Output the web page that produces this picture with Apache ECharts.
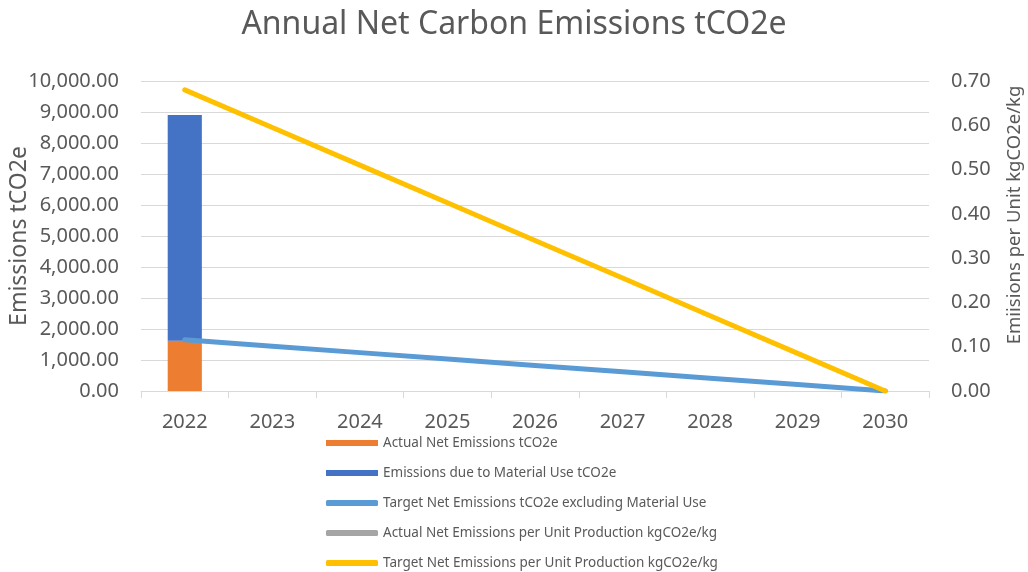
<!DOCTYPE html>
<html>
<head>
<meta charset="utf-8">
<script src="https://cdn.jsdelivr.net/npm/echarts@6/dist/echarts.min.js"></script>
<style>
  html, body { margin: 0; padding: 0; background: #fff; }
  #chart { width: 1028px; height: 572px; }
</style>
</head>
<body>
<div id="chart"></div>
<script>
// years on the x axis
var years = ['2022', '2023', '2024', '2025', '2026', '2027', '2028', '2029', '2030'];
// stacked bars (tCO2e) - only 2022 has actuals
var actualNet = [1620, null, null, null, null, null, null, null, null];
var materialUse = [7280, null, null, null, null, null, null, null, null];
// target line, tCO2e excluding material use
var targetNet = [1650, 1444, 1238, 1031, 825, 619, 413, 206, 0];
// per unit lines (kgCO2e/kg, right axis)
var actualPerUnit = [null, null, null, null, null, null, null, null, null];
var targetPerUnit = [0.68, 0.595, 0.51, 0.425, 0.34, 0.255, 0.17, 0.085, 0];

var textColor = '#595959';
var font = 'Noto Sans';

var chart = echarts.init(document.getElementById('chart'));

option = {
    animation: false,
    title: {
        text: 'Annual Net Carbon Emissions tCO2e',
        left: 'center',
        top: 4,
        textStyle: { fontFamily: font, fontSize: 32, fontWeight: 'normal', color: textColor }
    },
    legend: {
        orient: 'vertical',
        left: 321,
        top: 431,
        height: 145,
        itemWidth: 52,
        itemHeight: 6,
        itemGap: 16,
        textStyle: { fontFamily: font, fontSize: 13.5, color: textColor },
        data: [
            { name: 'Actual Net Emissions tCO2e', icon: 'rect' },
            { name: 'Emissions due to Material Use tCO2e', icon: 'rect' },
            { name: 'Target Net Emissions tCO2e excluding Material Use', icon: 'roundRect' },
            { name: 'Actual Net Emissions per Unit Production kgCO2e/kg', icon: 'roundRect' },
            { name: 'Target Net Emissions per Unit Production kgCO2e/kg', icon: 'roundRect' }
        ]
    },
    grid: { left: 141, right: 99, top: 81, bottom: 181, outerBoundsMode: 'none', containLabel: false },
    xAxis: {
        type: 'category',
        data: years,
        axisLine: { lineStyle: { color: '#d9d9d9' } },
        axisTick: { show: true, length: 7, lineStyle: { color: '#d9d9d9' } },
        axisLabel: { fontFamily: font, fontSize: 20, color: textColor, margin: 21 }
    },
    yAxis: [
        {   // left axis: tCO2e
            type: 'value',
            min: 0, max: 10000, interval: 1000,
            name: 'Emissions tCO2e',
            nameLocation: 'middle',
            nameGap: 110,
            nameMoveOverlap: false,
            nameTextStyle: { fontFamily: font, fontSize: 23, color: textColor },
            axisLine: { show: false },
            axisTick: { show: false },
            axisLabel: {
                fontFamily: font, fontSize: 20, color: textColor, margin: 22,
                formatter: function (v) {
                    return v.toLocaleString('en-US', { minimumFractionDigits: 2, maximumFractionDigits: 2 });
                }
            },
            splitLine: { lineStyle: { color: '#d9d9d9' } }
        },
        {   // right axis: kgCO2e/kg
            type: 'value',
            min: 0, max: 0.7, interval: 0.1,
            name: 'Emiisions per Unit kgCO2e/kg',
            nameLocation: 'middle',
            nameGap: 76,
            nameMoveOverlap: false,
            nameTextStyle: { fontFamily: font, fontSize: 18.5, color: textColor, padding: [0, 0, 0, 42] },
            axisLine: { show: false },
            axisTick: { show: false },
            axisLabel: {
                fontFamily: font, fontSize: 20, color: textColor, margin: 22,
                formatter: function (v) { return v.toFixed(2); }
            },
            splitLine: { show: false }
        }
    ],
    series: [
        {
            name: 'Actual Net Emissions tCO2e',
            type: 'bar',
            stack: 'em',
            barWidth: '39%',
            itemStyle: { color: '#ED7D31' },
            data: actualNet
        },
        {
            name: 'Emissions due to Material Use tCO2e',
            type: 'bar',
            stack: 'em',
            itemStyle: { color: '#4472C4' },
            data: materialUse
        },
        {
            name: 'Target Net Emissions tCO2e excluding Material Use',
            type: 'line',
            symbol: 'none',
            itemStyle: { color: '#5B9BD5' },
            lineStyle: { color: '#5B9BD5', width: 5, cap: 'round' },
            data: targetNet
        },
        {
            name: 'Actual Net Emissions per Unit Production kgCO2e/kg',
            type: 'line',
            yAxisIndex: 1,
            symbol: 'none',
            itemStyle: { color: '#A5A5A5' },
            lineStyle: { color: '#A5A5A5', width: 5, cap: 'round' },
            data: actualPerUnit
        },
        {
            name: 'Target Net Emissions per Unit Production kgCO2e/kg',
            type: 'line',
            yAxisIndex: 1,
            symbol: 'none',
            itemStyle: { color: '#FFC000' },
            lineStyle: { color: '#FFC000', width: 5, cap: 'round' },
            data: targetPerUnit
        }
    ]
};
chart.setOption(option);
</script>
</body>
</html>
